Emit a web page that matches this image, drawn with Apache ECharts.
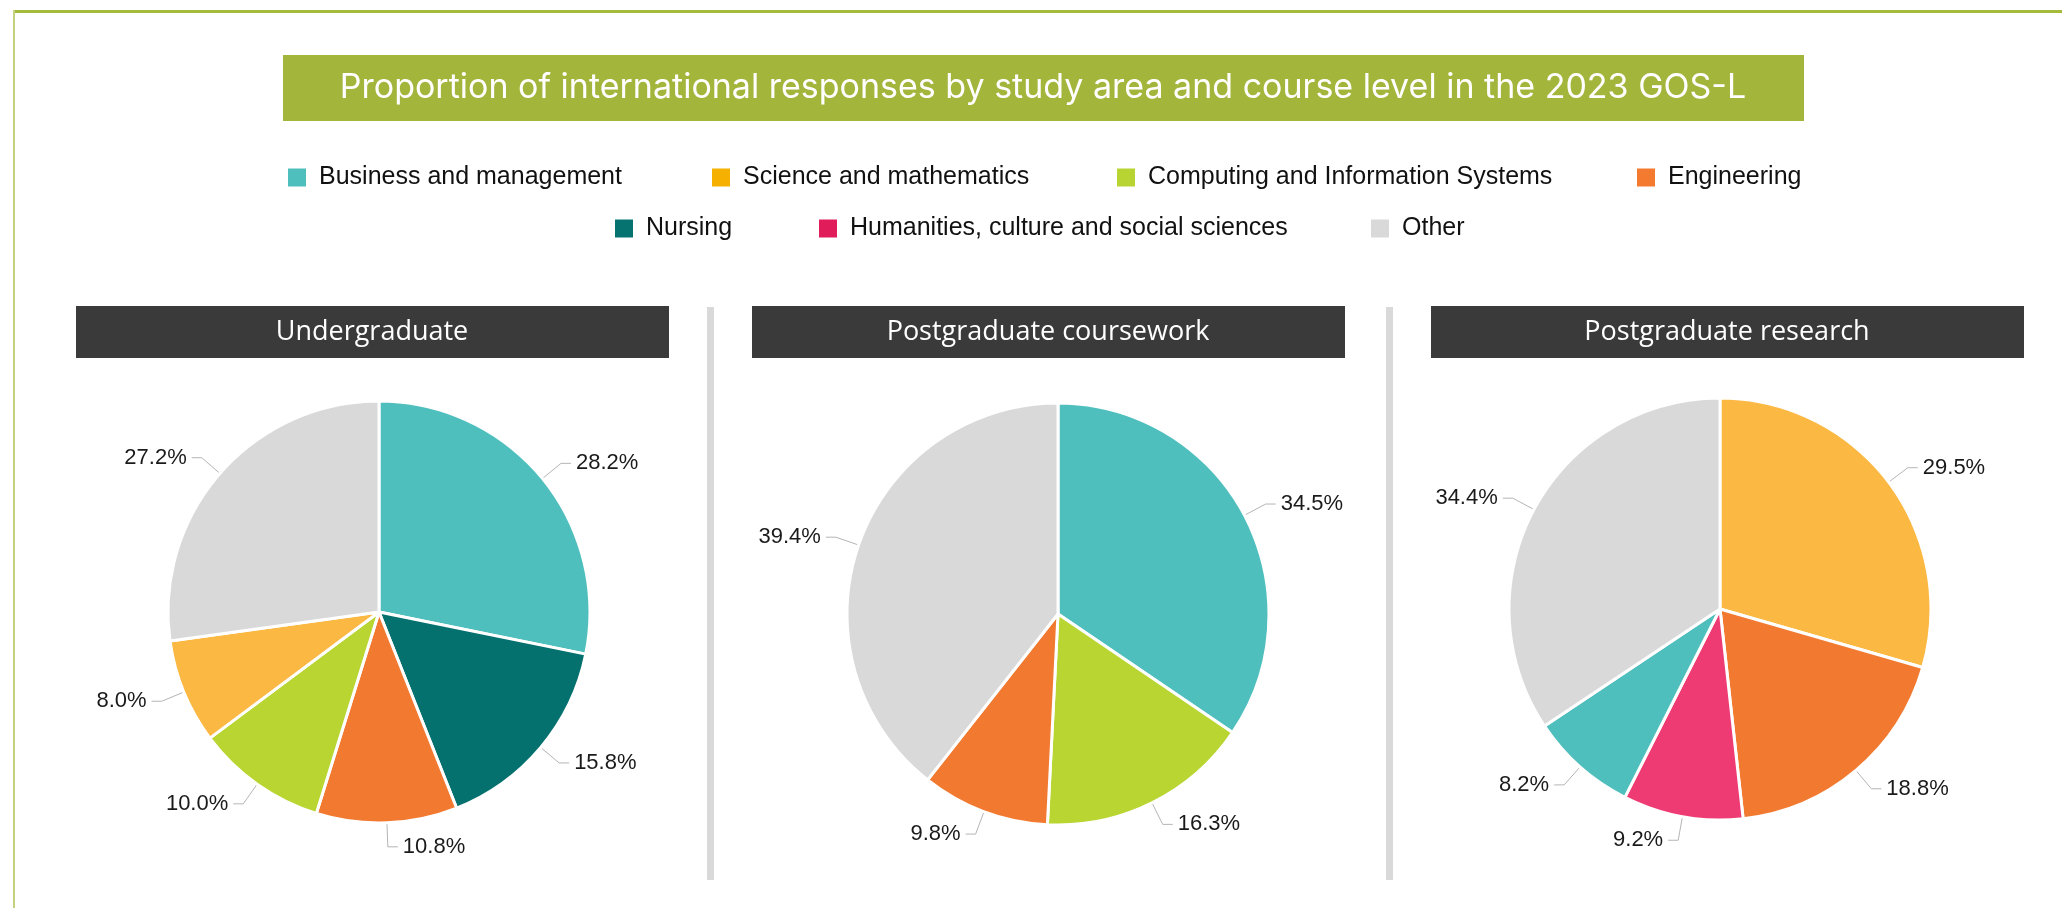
<!DOCTYPE html>
<html>
<head>
<meta charset="utf-8">
<script src="https://cdn.jsdelivr.net/npm/echarts@6/dist/echarts.min.js"></script>
<style>
	html, body { margin: 0; padding: 0; background: #fff; }
	#main { width: 2062px; height: 908px; }
</style>
</head>
<body>
<div id="main"></div>
<script>
// categories and colours
let categories = ['Business and management', 'Science and mathematics', 'Computing and Information Systems',
	'Engineering', 'Nursing', 'Humanities, culture and social sciences', 'Other'];
let sliceColors = ['#4fbfbe', '#fbb843', '#b8d532', '#f27930', '#05716f', '#ef3b73', '#d9d9d9'];
let legendColors = ['#4fbfbe', '#f5b000', '#b8d432', '#f37a2f', '#077370', '#e01d5a', '#d9d9d9'];

// panels
let panelTitles = ['Undergraduate', 'Postgraduate coursework', 'Postgraduate research'];

// slice order (clockwise from 12 o'clock) and values in %
let ugNames = ['Business and management', 'Nursing', 'Engineering', 'Computing and Information Systems', 'Science and mathematics', 'Other'];
let ugValues = [28.2, 15.8, 10.8, 10.0, 8.0, 27.2];

let pgcNames = ['Business and management', 'Computing and Information Systems', 'Engineering', 'Other'];
let pgcValues = [34.5, 16.3, 9.8, 39.4];

let pgrNames = ['Science and mathematics', 'Engineering', 'Humanities, culture and social sciences', 'Business and management', 'Other'];
let pgrValues = [29.5, 18.8, 9.2, 8.2, 34.4];

let title = 'Proportion of international responses by study area and course level in the 2023 GOS-L';

// layout
let legendPos = [[286, 165], [710, 165], [1115, 165], [1635, 165], [613, 216], [817, 216], [1369, 216]];
let headerX = [76, 752, 1431];
let pieCenters = [[379, 612], [1058, 614], [1720, 609]];
let pieRadius = 211;

let myChart = echarts.init(document.getElementById('main'));

function colorOf(name) {
	return sliceColors[categories.indexOf(name)];
}

function makePie(names, values, center) {
	return {
		type: 'pie',
		center: center,
		radius: pieRadius,
		startAngle: 90,
		clockwise: true,
		animation: false,
		avoidLabelOverlap: true,
		itemStyle: { borderColor: '#ffffff', borderWidth: 3 },
		label: {
			show: true,
			position: 'outside',
			color: '#1a1a1a',
			fontSize: 22,
			fontFamily: 'Liberation Sans, Arial, sans-serif',
			formatter: function(p) { return p.value.toFixed(1) + '%'; }
		},
		labelLine: {
			show: true,
			length: 24,
			length2: 10,
			lineStyle: { color: '#b5b5b5', width: 1 }
		},
		emphasis: { disabled: true },
		data: names.map(function(n, i) {
			return { name: n, value: values[i], itemStyle: { color: colorOf(n) } };
		})
	};
}

let legends = categories.map(function(name, i) {
	return {
		left: legendPos[i][0],
		top: legendPos[i][1],
		orient: 'horizontal',
		padding: 0,
		icon: 'rect',
		itemWidth: 20,
		itemHeight: 20,
		selectedMode: false,
		textStyle: {
			color: '#111',
			fontSize: 25,
			fontFamily: 'Liberation Sans, Arial, sans-serif',
			padding: [0, 0, 0, 7]
		},
		data: [{ name: name, itemStyle: { color: legendColors[i] } }]
	};
});

let graphics = [
	// frame
	{ type: 'rect', shape: { x: 13, y: 10, width: 2049, height: 3 }, style: { fill: '#a4bb3c' } },
	{ type: 'rect', shape: { x: 13, y: 10, width: 2, height: 898 }, style: { fill: '#c3d27f' } },
	// title bar
	{ type: 'rect', shape: { x: 283, y: 55, width: 1521, height: 66 }, style: { fill: '#a3b53a' } },
	{
		type: 'text', x: 1043, y: 88,
		style: {
			text: title, fill: '#ffffff', font: '400 34px Inter, sans-serif',
			textAlign: 'center', textVerticalAlign: 'middle'
		}
	},
	// separators
	{ type: 'rect', shape: { x: 707, y: 307, width: 7, height: 573 }, style: { fill: '#d9d9d9' } },
	{ type: 'rect', shape: { x: 1386, y: 307, width: 7, height: 573 }, style: { fill: '#d9d9d9' } }
];

panelTitles.forEach(function(t, i) {
	graphics.push({ type: 'rect', shape: { x: headerX[i], y: 306, width: 593, height: 52 }, style: { fill: '#393a39' } });
	graphics.push({
		type: 'text', x: headerX[i] + 296, y: 332,
		style: {
			text: t, fill: '#ffffff', font: '400 27px "Open Sans", sans-serif',
			textAlign: 'center', textVerticalAlign: 'middle'
		}
	});
});

let option = {
	backgroundColor: '#ffffff',
	animation: false,
	legend: legends,
	graphic: graphics,
	series: [
		makePie(ugNames, ugValues, pieCenters[0]),
		makePie(pgcNames, pgcValues, pieCenters[1]),
		makePie(pgrNames, pgrValues, pieCenters[2])
	]
};
myChart.setOption(option);
window.onresize = myChart.resize;
</script>
</body>
</html>
